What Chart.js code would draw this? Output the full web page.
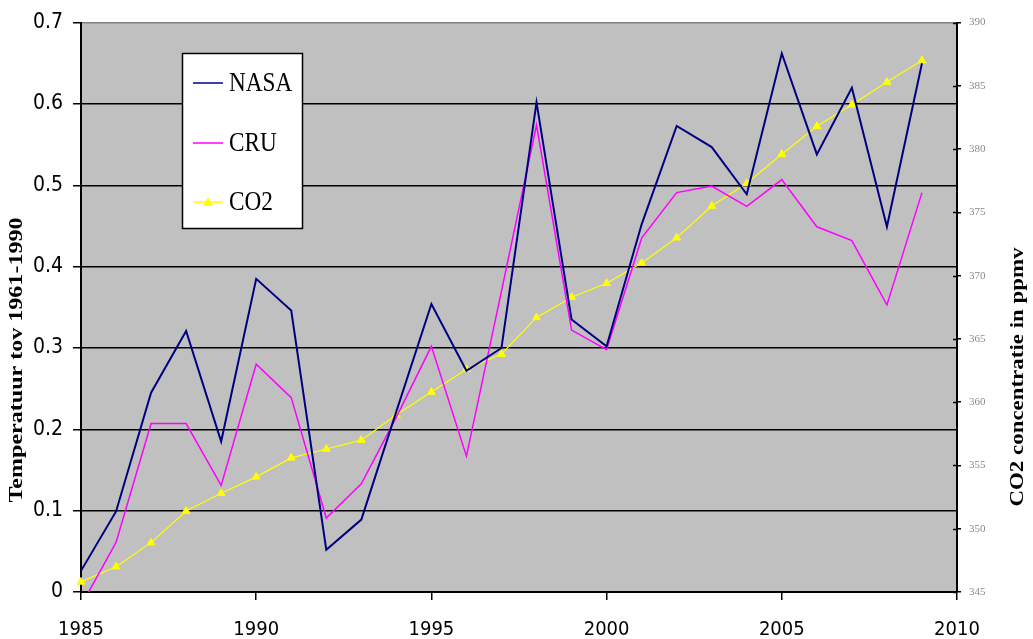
<!DOCTYPE html>
<html>
<head>
<meta charset="utf-8">
<script src="https://cdn.jsdelivr.net/npm/chart.js@4"></script>
<style>
  html, body { margin: 0; padding: 0; background: #fff; }
  #wrap { width: 1033px; height: 639px; }
</style>
</head>
<body>
<div id="wrap"><canvas id="chart" width="1033" height="639"></canvas></div>
<script>
// jaren en meetwaarden
const years = [1985, 1986, 1987, 1988, 1989, 1990, 1991, 1992, 1993, 1994, 1995, 1996, 1997,
               1998, 1999, 2000, 2001, 2002, 2003, 2004, 2005, 2006, 2007, 2008, 2009];
const nasa = [0.026, 0.099, 0.245, 0.321, 0.185, 0.385, 0.346, 0.052, 0.089, 0.222, 0.354, 0.272, 0.300,
              0.602, 0.335, 0.302, 0.452, 0.573, 0.547, 0.489, 0.662, 0.538, 0.620, 0.449, 0.650];
const cru = [-0.017, 0.061, 0.207, 0.207, 0.131, 0.280, 0.239, 0.091, 0.133, 0.215, 0.302, 0.167, 0.370,
             0.574, 0.322, 0.298, 0.435, 0.491, 0.499, 0.474, 0.507, 0.449, 0.432, 0.353, 0.491];
const co2 = [345.8, 347.0, 348.9, 351.4, 352.8, 354.1, 355.6, 356.3, 357.0, 359.0, 360.8, 362.6, 363.8,
             366.7, 368.3, 369.4, 371.0, 373.0, 375.5, 377.3, 379.6, 381.8, 383.5, 385.3, 387.0];

const tempTicks = [0, 0.1, 0.2, 0.3, 0.4, 0.5, 0.6, 0.7];
const yearTicks = [1985, 1990, 1995, 2000, 2005, 2010];
const co2Ticks = [345, 350, 355, 360, 365, 370, 375, 380, 385, 390];

const tickFont = "'DejaVu Sans Condensed', 'DejaVu Sans', sans-serif";
const serif = "'Liberation Serif', 'Times New Roman', serif";

const pts = arr => arr.map((v, i) => ({ x: years[i], y: v }));

// grijze plotachtergrond
const plotBg = {
  id: 'plotBg',
  beforeDraw(chart) {
    const { ctx, chartArea: a } = chart;
    ctx.save();
    ctx.fillStyle = '#c0c0c0';
    ctx.fillRect(a.left, a.top, a.right - a.left, a.bottom - a.top);
    ctx.restore();
  }
};

function drawRotated(ctx, text, cx, cy, length, squeeze) {
  ctx.save();
  ctx.font = `bold 23px ${serif}`;
  const w = ctx.measureText(text).width;
  ctx.translate(cx, cy);
  ctx.rotate(-Math.PI / 2);
  ctx.scale(length / w, squeeze);
  ctx.fillStyle = '#000';
  ctx.textAlign = 'center';
  ctx.textBaseline = 'middle';
  ctx.fillText(text, 0, 0);
  ctx.restore();
}

// legenda, astitels en kruisende tickjes rechts
const extras = {
  id: 'extras',
  afterDraw(chart) {
    const { ctx } = chart;
    const y2 = chart.scales.y2;

    ctx.save();
    ctx.strokeStyle = '#000';
    ctx.lineWidth = 1.5;
    co2Ticks.forEach(v => {
      const y = Math.round(y2.getPixelForValue(v)) + 0.5;
      ctx.beginPath();
      ctx.moveTo(y2.left - 4, y);
      ctx.lineTo(y2.left, y);
      ctx.stroke();
    });
    ctx.restore();

    // legenda
    ctx.save();
    ctx.fillStyle = '#fff';
    ctx.fillRect(182, 53, 121, 176);
    ctx.strokeStyle = '#000';
    ctx.lineWidth = 1.5;
    ctx.strokeRect(182.5, 53.5, 120, 175);
    const rows = [83, 143, 202];
    chart.data.datasets.forEach((ds, i) => {
      const y = rows[i];
      ctx.strokeStyle = ds.borderColor;
      ctx.lineWidth = 1.5;
      ctx.beginPath();
      ctx.moveTo(193, y);
      ctx.lineTo(223, y);
      ctx.stroke();
      if (ds.pointStyle === 'triangle') {
        ctx.fillStyle = ds.borderColor;
        ctx.beginPath();
        ctx.moveTo(208, y - 5);
        ctx.lineTo(213, y + 4);
        ctx.lineTo(203, y + 4);
        ctx.closePath();
        ctx.fill();
      }
      ctx.save();
      ctx.translate(229, y + 1);
      ctx.scale(0.86, 1);
      ctx.font = `27px ${serif}`;
      ctx.fillStyle = '#000';
      ctx.textBaseline = 'middle';
      ctx.fillText(ds.label, 0, 0);
      ctx.restore();
    });
    ctx.restore();

    drawRotated(ctx, 'Temperatuur tov 1961-1990', 17, 360, 285, 0.85);
    drawRotated(ctx, 'CO2 concentratie in ppmv', 1018, 377, 259, 0.85);
  }
};

new Chart(document.getElementById('chart'), {
  type: 'line',
  data: {
    datasets: [
      {
        label: 'NASA',
        data: pts(nasa),
        borderColor: '#000080',
        borderWidth: 2,
        pointRadius: 0,
        tension: 0,
        yAxisID: 'y',
        clip: 0
      },
      {
        label: 'CRU',
        data: pts(cru),
        borderColor: '#ff00ff',
        borderWidth: 1.5,
        pointRadius: 0,
        tension: 0,
        yAxisID: 'y',
        clip: 0
      },
      {
        label: 'CO2',
        data: pts(co2),
        borderColor: '#ffff00',
        backgroundColor: '#ffff00',
        borderWidth: 1.2,
        pointStyle: 'triangle',
        pointRadius: 4.5,
        pointBorderWidth: 1,
        tension: 0,
        yAxisID: 'y2',
        clip: false
      }
    ]
  },
  options: {
    responsive: false,
    animation: false,
    layout: { padding: { top: 20, left: 0, right: 0, bottom: 0 } },
    plugins: {
      legend: { display: false },
      tooltip: { enabled: false }
    },
    scales: {
      x: {
        type: 'linear',
        min: 1985,
        max: 2010,
        afterBuildTicks: s => { s.ticks = yearTicks.map(v => ({ value: v })); },
        afterFit: s => { s.height = 47; },
        ticks: {
          callback: v => String(v),
          font: { family: tickFont, size: 20 },
          color: '#000',
          padding: 18,
          maxRotation: 0
        },
        grid: { drawOnChartArea: false, color: '#000', tickLength: 8, lineWidth: 1.5 },
        border: { color: '#000', width: 2 }
      },
      y: {
        position: 'left',
        min: 0,
        max: 0.7,
        afterBuildTicks: s => { s.ticks = tempTicks.map(v => ({ value: v })); },
        afterFit: s => { s.width = 81; },
        ticks: {
          callback: v => v === 0 ? '0' : v.toFixed(1),
          font: { family: tickFont, size: 21 },
          color: '#000',
          padding: 10
        },
        grid: {
          color: c => (c.tick && Math.abs(c.tick.value - 0.7) < 1e-6) ? '#808080' : '#000',
          tickColor: '#000',
          lineWidth: 1.5,
          tickLength: 8
        },
        border: { color: '#000', width: 2 }
      },
      y2: {
        position: 'right',
        min: 345,
        max: 390,
        afterBuildTicks: s => { s.ticks = co2Ticks.map(v => ({ value: v })); },
        afterFit: s => { s.width = 76; },
        ticks: {
          font: { family: serif, size: 11 },
          color: '#8a8a8a',
          padding: 8
        },
        grid: { drawOnChartArea: false, color: '#000', tickLength: 4, lineWidth: 1.5 },
        border: { color: '#000', width: 2 }
      }
    }
  },
  plugins: [plotBg, extras]
});
</script>
</body>
</html>
